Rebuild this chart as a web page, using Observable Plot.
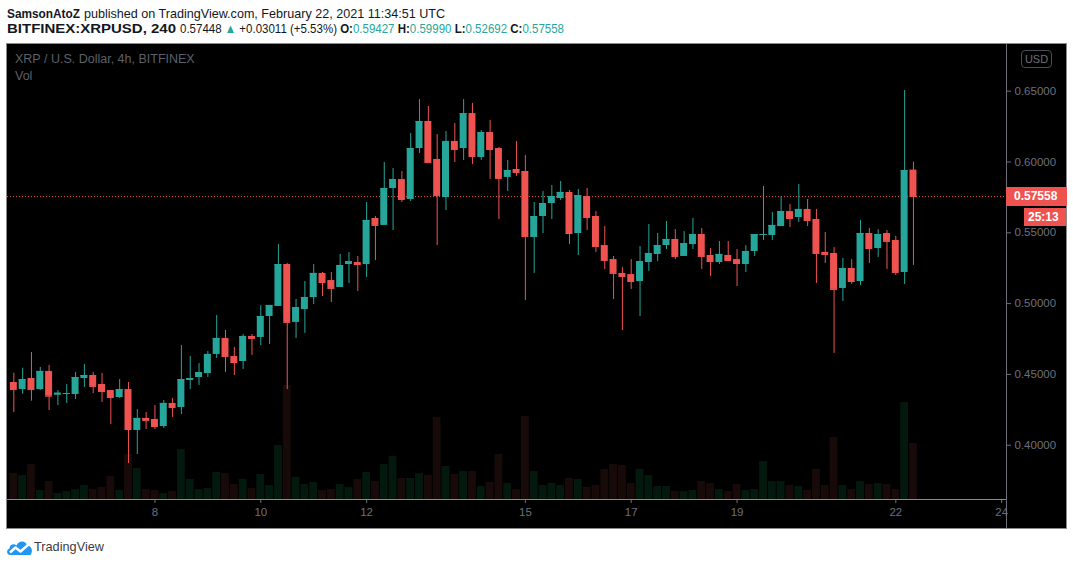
<!DOCTYPE html>
<html>
<head>
<meta charset="utf-8">
<script src="https://cdn.jsdelivr.net/npm/d3@7"></script>
<script src="https://cdn.jsdelivr.net/npm/@observablehq/plot@0.6"></script>
<style>
  html, body { margin: 0; padding: 0; background: #fff; width: 1073px; height: 565px; overflow: hidden;
    font-family: "Liberation Sans", Arial, sans-serif; }
  .abs { position: absolute; white-space: nowrap; }
  .l1 { top: 6px; font-size: 13px; color: #131722; }
  .l2 { top: 21px; font-size: 13px; color: #131722; }
  .b { font-weight: bold; }
  .t { color: #26a69a; }
  #box { position: absolute; left: 7px; top: 44px; width: 1059px; height: 484px; background: #000;
    outline: 1px solid #8a8a8a; }
  #box svg { position: absolute; left: 0; top: 0; overflow: visible; }
  #legend1 { left: 8px; top: 8px; font-size: 12.5px; color: #5d606b; }
  #legend2 { left: 8px; top: 25px; font-size: 12.5px; color: #5d606b; }
  #usd { left: 1014px; top: 6px; width: 29px; height: 16px; border: 1px solid #4a4d57; border-radius: 4px;
    font-size: 11px; color: #6d707a; text-align: center; line-height: 16px; }
  .tag { position: absolute; background: #ef5350; color: #fff; font-weight: bold; font-size: 12px;
    height: 19px; line-height: 19px; }
  #hline { position: absolute; left: 0; top: 455px; width: 999px; height: 1px; background: #8a8a8a; }
  #vline { position: absolute; left: 999px; top: 0; width: 1px; height: 484px; background: #6a6d75; }
  #brand { left: 34px; top: 539px; font-size: 13px; color: #3a3d45; }
</style>
</head>
<body>
<div id="l1a" class="abs l1 b" style="left:7px">SamsonAtoZ</div>
<div id="l1b" class="abs l1" style="left:84px">published on TradingView.com, February 22, 2021 11:34:51 UTC</div>
<div id="l2a" class="abs l2 b" style="left:7px">BITFINEX:XRPUSD, 240</div>
<div id="l2b" class="abs l2" style="left:180px">0.57448 <span class="t">▲</span> +0.03011 (+5.53%) <span class="b">O:</span><span class="t">0.59427</span> <span class="b">H:</span><span class="t">0.59990</span> <span class="b">L:</span><span class="t">0.52692</span> <span class="b">C:</span><span class="t">0.57558</span></div>
<div id="box">
  <div id="volwrap"></div>
  <div id="pricewrap"></div>
  <div id="hline"></div>
  <div id="vline"></div>
  <div id="legend1" class="abs">XRP / U.S. Dollar, 4h, BITFINEX</div>
  <div id="legend2" class="abs">Vol</div>
  <div id="usd" class="abs">USD</div>
</div>
<svg class="abs" style="left:6px;top:537px" width="27" height="19" viewBox="0 0 27 19">
  <path d="M4 18 C0.5 18 0 12.5 3.5 11.5 C3.5 7.5 8 6 10.5 8.5 C12.5 3 20 3 21 8.5 C25.5 8.5 27.5 14 24.5 18 Z" fill="#2196f3"/>
  <polyline points="4,15.5 9.5,10.5 14.5,14.5 22.5,7.5" stroke="#fff" stroke-width="2.4" fill="none" stroke-linejoin="round"/>
</svg>
<div id="brand" class="abs">TradingView</div>
<script>
// ---- data (4h candles, BITFINEX:XRPUSD) ----
const firstCandle = "2021-02-05T08:00:00Z";
const opens = [
0.4443,0.4393,0.4471,0.4393,0.4521,0.4353,0.4360,0.4358,0.4471,0.4492,
0.4429,0.4386,0.4337,0.4393,0.4104,0.4189,0.4182,0.4132,0.4295,0.4266,
0.4457,0.4478,0.4506,0.4641,0.4754,0.4626,0.4591,0.4768,0.4761,0.4909,
0.4980,0.5276,0.4867,0.4958,0.5043,0.5213,0.5163,0.5114,0.5276,0.5290,
0.5276,0.5601,0.5552,0.5813,0.5876,0.5735,0.6095,0.6286,0.6018,0.5749,
0.6145,0.6095,0.6342,0.6032,0.6208,0.6095,0.5891,0.5947,0.5933,0.5467,
0.5615,0.5707,0.5742,0.5785,0.5495,0.5756,0.5615,0.5410,0.5311,0.5213,
0.5205,0.5156,0.5290,0.5347,0.5410,0.5453,0.5333,0.5417,0.5488,0.5340,
0.5290,0.5340,0.5311,0.5276,0.5368,0.5481,0.5481,0.5544,0.5650,0.5608,
0.5665,0.5594,0.5361,0.5354,0.5107,0.5248,0.5156,0.5495,0.5389,0.5495,
0.5446,0.5220,0.59427];
const highs = [
0.4509,0.4544,0.4655,0.4549,0.4563,0.4386,0.4429,0.4513,0.4570,0.4513,
0.4506,0.4386,0.4464,0.4443,0.4252,0.4231,0.4280,0.4316,0.4330,0.4704,
0.4626,0.4577,0.4662,0.4916,0.4810,0.4690,0.4782,0.4782,0.4987,0.4987,
0.5417,0.5283,0.5029,0.5156,0.5276,0.5220,0.5220,0.5347,0.5361,0.5333,
0.5714,0.5615,0.5996,0.5954,0.5933,0.6201,0.6441,0.6392,0.6194,0.6215,
0.6272,0.6441,0.6413,0.6222,0.6293,0.6102,0.6011,0.6145,0.6046,0.5714,
0.5792,0.5834,0.5862,0.5799,0.5806,0.5813,0.5650,0.5544,0.5333,0.5255,
0.5311,0.5403,0.5559,0.5495,0.5580,0.5523,0.5509,0.5601,0.5530,0.5389,
0.5439,0.5439,0.5382,0.5410,0.5488,0.5827,0.5643,0.5756,0.5700,0.5841,
0.5735,0.5665,0.5502,0.5396,0.5319,0.5311,0.5587,0.5530,0.5523,0.5516,
0.5474,0.6505,0.59990];
const lows = [
0.4231,0.4360,0.4311,0.4386,0.4245,0.4280,0.4295,0.4323,0.4408,0.4365,
0.4302,0.4146,0.4330,0.3871,0.3934,0.4111,0.4111,0.4118,0.4196,0.4217,
0.4393,0.4422,0.4478,0.4612,0.4513,0.4492,0.4535,0.4633,0.4704,0.4711,
0.4980,0.4393,0.4754,0.4789,0.4994,0.5050,0.5008,0.5114,0.5142,0.5085,
0.5184,0.5304,0.5552,0.5516,0.5714,0.5721,0.6060,0.5996,0.5410,0.5657,
0.5996,0.6011,0.5982,0.6011,0.5876,0.5594,0.5792,0.5898,0.5022,0.5213,
0.5495,0.5594,0.5728,0.5417,0.5340,0.5516,0.5361,0.5241,0.5029,0.4810,
0.5100,0.4909,0.5227,0.5297,0.5382,0.5311,0.5333,0.5382,0.5241,0.5191,
0.5276,0.5297,0.5121,0.5220,0.5333,0.5446,0.5446,0.5544,0.5537,0.5573,
0.5544,0.5142,0.5283,0.4648,0.5015,0.5135,0.5128,0.5283,0.5326,0.5241,
0.5198,0.5135,0.52692];
const closes = [
0.4393,0.4464,0.4393,0.4521,0.4346,0.4367,0.4365,0.4478,0.4492,0.4415,
0.4379,0.4337,0.4393,0.4111,0.4189,0.4174,0.4132,0.4295,0.4266,0.4464,
0.4471,0.4513,0.4641,0.4754,0.4626,0.4584,0.4768,0.4754,0.4909,0.4987,
0.5276,0.4867,0.4972,0.5043,0.5213,0.5149,0.5107,0.5269,0.5297,0.5276,
0.5587,0.5552,0.5813,0.5876,0.5735,0.6095,0.6286,0.5996,0.5763,0.6145,
0.6088,0.6342,0.6039,0.6208,0.6088,0.5883,0.5940,0.5926,0.5474,0.5615,
0.5707,0.5756,0.5785,0.5495,0.5763,0.5608,0.5403,0.5304,0.5213,0.5191,
0.5156,0.5297,0.5354,0.5410,0.5453,0.5333,0.5424,0.5488,0.5333,0.5297,
0.5347,0.5304,0.5283,0.5368,0.5488,0.5488,0.5552,0.5650,0.5601,0.5665,
0.5587,0.5354,0.5347,0.5100,0.5248,0.5156,0.5495,0.5389,0.5488,0.5439,
0.5220,0.5940,0.57558];
// volume in millions XRP (relative)
const volumes = [
7.8,7.2,10.5,2.7,5.4,1.8,2.4,3.0,4.2,3.0,
3.6,6.9,2.7,13.5,9.3,3.0,2.7,1.8,2.4,15.0,
6.0,3.0,3.3,8.1,7.8,4.5,6.0,3.3,7.5,4.2,
16.2,34.2,6.6,4.5,5.1,2.7,3.0,4.5,3.6,6.0,
8.1,5.4,10.5,12.9,6.3,6.3,7.8,7.2,24.6,9.9,
7.5,8.4,8.4,3.9,5.1,13.5,4.8,3.0,24.9,8.4,
4.2,4.8,4.2,6.3,6.0,3.6,4.2,9.0,10.5,10.2,
4.8,9.0,7.2,3.9,3.9,2.4,2.4,2.7,5.4,4.8,
3.0,2.4,4.5,2.7,3.0,11.4,5.4,5.4,4.2,3.9,
2.7,9.0,4.2,18.6,4.2,3.0,5.4,4.5,4.8,4.5,
3.0,29.1,16.8];
const dayTicks = ["2021-02-08","2021-02-10","2021-02-12","2021-02-15","2021-02-17","2021-02-19","2021-02-22","2021-02-24"];
const priceTicks = [0.40, 0.45, 0.50, 0.55, 0.60, 0.65];
const timeDomain = ["2021-02-05T05:08:00Z", "2021-02-24T02:12:00Z"];
const priceDomain = [0.36166, 0.68227];
const volumeDomain = [0, 136.2];
const countdown = "25:13";

// ---- fit header text widths to the reference's narrower face ----
function fitWidth(id, width) {
  const el = document.getElementById(id);
  const w = el.getBoundingClientRect().width;
  el.style.transformOrigin = "0 0";
  el.style.transform = `scaleX(${width / w})`;
}
fitWidth("l1a", 73);
fitWidth("l1b", 361);
fitWidth("l2a", 169);
fitWidth("l2b", 384);
fitWidth("brand", 70);

// ---- build table ----
const t0 = new Date(firstCandle);
const candles = opens.map((o, i) => {
  const date = d3.utcHour.offset(t0, 4 * i);
  return {date, open: o, high: highs[i], low: lows[i], close: closes[i], volume: volumes[i]};
});
const up = candles.filter(d => d.close >= d.open);
const down = candles.filter(d => d.close < d.open);
const UP = "#26a69a", DOWN = "#ef5350";
const VUP = "#04190e", VDOWN = "#190a0a";
const minute = 60000;
const bodyL = d => new Date(+d.date - 95 * minute), bodyR = d => new Date(+d.date + 95 * minute);
const volL = d => new Date(+d.date - 106 * minute), volR = d => new Date(+d.date + 106 * minute);

const W = 1059, H = 484;
const common = {
  width: W, height: H, marginLeft: 0, marginRight: 60, marginTop: 1, marginBottom: 29,
  style: {background: "transparent", color: "#6d707a", fontFamily: "'Liberation Sans', Arial, sans-serif", fontSize: "11.5px", overflow: "visible"}
};
const xDom = timeDomain.map(s => new Date(s));

const volPlot = Plot.plot({
  ...common,
  x: {type: "utc", domain: xDom, axis: null},
  y: {domain: volumeDomain, axis: null},
  marks: [
    Plot.rectY(up, {x1: volL, x2: volR, y1: 0, y2: "volume", fill: VUP}),
    Plot.rectY(down, {x1: volL, x2: volR, y1: 0, y2: "volume", fill: VDOWN})
  ]
});
document.getElementById("volwrap").append(volPlot);

const last = candles[candles.length - 1];
const pricePlot = Plot.plot({
  ...common,
  x: {type: "utc", domain: xDom, ticks: dayTicks.map(s => new Date(s + "T00:00:00Z")), tickFormat: d3.utcFormat("%-d"), tickSize: 4, tickPadding: 4, label: null},
  y: {domain: priceDomain, ticks: priceTicks, tickFormat: d => d.toFixed(5), axis: "right", tickSize: 4, tickPadding: 4, label: null},
  marks: [
    Plot.ruleY([last.close], {stroke: DOWN, strokeDasharray: "1,2", strokeWidth: 1}),
    Plot.ruleX(up, {x: "date", y1: "low", y2: "high", stroke: UP}),
    Plot.ruleX(down, {x: "date", y1: "low", y2: "high", stroke: DOWN}),
    Plot.rect(up, {x1: bodyL, x2: bodyR, y1: "open", y2: "close", fill: UP}),
    Plot.rect(down, {x1: bodyL, x2: bodyR, y1: "open", y2: "close", fill: DOWN}),
    Plot.ruleY(up, {y: "close", x1: bodyL, x2: bodyR, stroke: UP}),
    Plot.ruleY(down, {y: "close", x1: bodyL, x2: bodyR, stroke: DOWN})
  ]
});
document.getElementById("pricewrap").append(pricePlot);

// current price tag and countdown, positioned via the plot's y scale
const yPix = pricePlot.scale("y").apply(last.close);
const box = document.getElementById("box");
const tag = document.createElement("div");
tag.className = "tag";
tag.style.left = (W - 60) + "px";
tag.style.width = "53px";
tag.style.paddingLeft = "8px";
tag.style.top = (yPix - 9.5) + "px";
tag.textContent = last.close.toFixed(5);
box.append(tag);
const cd = document.createElement("div");
cd.className = "tag";
cd.style.left = (W - 42) + "px";
cd.style.width = "38px";
cd.style.paddingLeft = "4px";
cd.style.top = (yPix + 11.5) + "px";
cd.style.height = "18px"; cd.style.lineHeight = "18px";
cd.textContent = countdown;
box.append(cd);
</script>
</body>
</html>
